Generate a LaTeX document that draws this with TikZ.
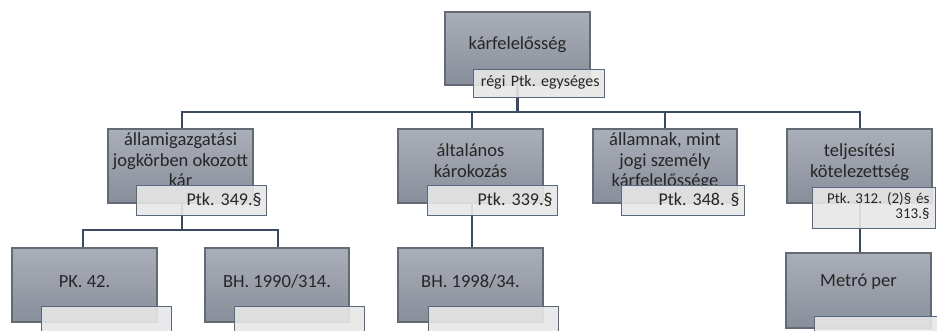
\documentclass[tikz,border=0pt]{standalone}
\usepackage{fontspec}
\setmainfont{Carlito}
\usetikzlibrary{backgrounds}
\definecolor{boxtop}{RGB}{170,174,184}
\definecolor{boxbot}{RGB}{136,142,154}
\definecolor{boxline}{RGB}{100,106,116}
\definecolor{lblfill}{RGB}{231,231,231}
\definecolor{lblline}{RGB}{88,104,128}
\definecolor{connc}{RGB}{58,74,96}
\newcommand{\boxtxt}[2][3pt]{\raisebox{#1}[\height][\depth]{\begin{tabular}{@{}c@{}}#2\end{tabular}}}
\newcommand{\lbltxt}[2][0pt]{\raisebox{#1}[\height][\depth]{\begin{tabular}{@{}r@{}}#2\end{tabular}}}
\begin{document}
\frenchspacing
\begin{tikzpicture}[x=1pt,y=-1pt,
 box/.style={draw=boxline, line width=1.2pt, top color=boxtop, bottom color=boxbot, inner sep=2pt, font=\fontsize{18.5}{20.5}\selectfont\frenchspacing, text=black!85},
 lbl/.style={draw=lblline, line width=0.9pt, fill=lblfill, fill opacity=0.9, text opacity=1, inner sep=5pt, align=right, font=\fontsize{18}{20}\selectfont\frenchspacing, text=black!85},
 connline/.style={draw=connc, line width=2.6pt}]
\useasboundingbox (0,0) rectangle (937,331);
% level 0
\node[box, minimum width=145, minimum height=73] (b0) at (517.5,48.5) {\boxtxt{kárfelelősség}};
\node[lbl, minimum width=131, minimum height=28, anchor=east, text width=121, font=\fontsize{16}{18}\selectfont\frenchspacing] (l0) at (605,83) {\lbltxt{régi Ptk. egységes}};
% level 1
\node[box, minimum width=145, minimum height=74] (b1) at (180.5,166) {\boxtxt[4pt]{államigazgatási\\jogkörben okozott\\kár}};
\node[box, minimum width=145, minimum height=74] (b2) at (470.5,166) {\boxtxt{általános\\károkozás}};
\node[box, minimum width=144, minimum height=74] (b3) at (665,166) {\boxtxt[4pt]{államnak, mint\\jogi személy\\kárfelelőssége}};
\node[box, minimum width=145, minimum height=74] (b4) at (859.5,166) {\boxtxt{teljesítési\\kötelezettség}};
\node[lbl, minimum width=130, minimum height=25, anchor=east, text width=120] (l1) at (267,200) {\lbltxt[-1.5pt]{Ptk. 349.§}};
\node[lbl, minimum width=130, minimum height=25, anchor=east, text width=120] (l2) at (558,200.5) {\lbltxt[-1.5pt]{Ptk. 339.§}};
\node[lbl, minimum width=123, minimum height=25, anchor=east, text width=113] (l3) at (745,200.5) {\lbltxt[-1.5pt]{Ptk. 348. §}};
\node[lbl, minimum width=123, minimum height=38, anchor=east, inner xsep=6pt, text width=111, font=\fontsize{15}{15.5}\selectfont\frenchspacing] (l4) at (936,208) {\lbltxt{Ptk. 312. (2)§ és\\313.§}};
% level 2
\node[box, minimum width=145, minimum height=74] (b5) at (84.5,285) {\boxtxt[2pt]{PK. 42.}};
\node[box, minimum width=144, minimum height=74] (b6) at (277,285) {\boxtxt[2pt]{BH. 1990/314.}};
\node[box, minimum width=145, minimum height=74] (b7) at (470.5,285) {\boxtxt[2pt]{BH. 1998/34.}};
\node[box, minimum width=145, minimum height=75] (b8) at (858.5,290.5) {\boxtxt[8pt]{Metró per}};
\node[lbl, minimum width=130, minimum height=25] (l5) at (106,318.5) {};
\node[lbl, minimum width=130, minimum height=25] (l6) at (299,318.5) {};
\node[lbl, minimum width=130, minimum height=25] (l7) at (493,318.5) {};
\node[lbl, minimum width=130, minimum height=25] (l8) at (879,329) {};
% connectors
\coordinate (bus0) at (517.5,112);
\coordinate (bus1) at (182,230);
\begin{scope}[on background layer]
\draw[connline] (b0.center) -- (bus0);
\draw[connline] (bus0) -| ([xshift=1.5pt]b1.north);
\draw[connline] (bus0) -| ([xshift=1.5pt]b2.north);
\draw[connline] (bus0) -| (b3.north);
\draw[connline] (bus0) -| ([xshift=0.5pt]b4.north);
\draw[connline] ([xshift=1.5pt]b1.center) -- (bus1);
\draw[connline] (bus1) -| ([xshift=-1.5pt]b5.north);
\draw[connline] (bus1) -| ([xshift=1pt]b6.north);
\draw[connline] ([xshift=1.5pt]b2.center) -- ([xshift=1.5pt]b7.north);
\draw[connline] ([xshift=0.5pt]b4.center) -- ([xshift=1.5pt]b8.north);
\end{scope}
\end{tikzpicture}
\end{document}
